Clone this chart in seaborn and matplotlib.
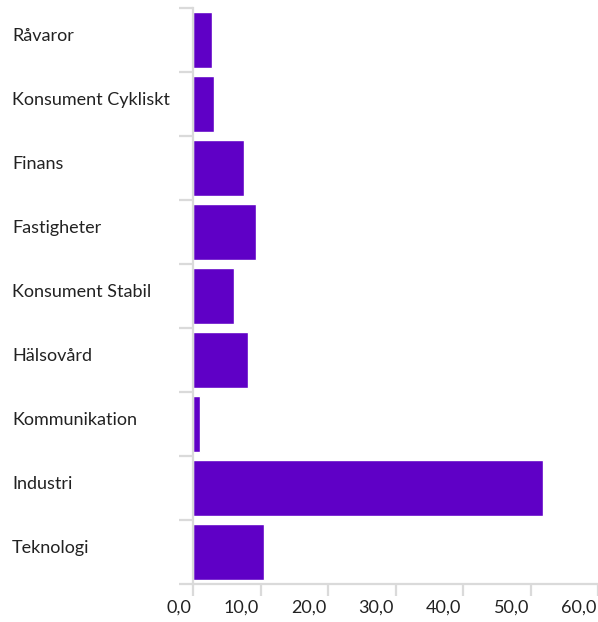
import numpy as np
import pandas as pd
import matplotlib
matplotlib.use("Agg")
import matplotlib.pyplot as plt
import matplotlib.ticker as mticker
import matplotlib.transforms as mtransforms
import seaborn as sns

# Data
sectors = ["Råvaror", "Konsument Cykliskt", "Finans", "Fastigheter", "Konsument Stabil",
           "Hälsovård", "Kommunikation", "Industri", "Teknologi"]
weights = [2.8, 3.1, 7.5, 9.3, 6.1, 8.1, 1.0, 51.9, 10.5]

df = pd.DataFrame({"Sektor": sectors, "Andel": weights})

sns.set_style("white")
plt.rcParams["font.family"] = ["Lato", "DejaVu Sans"]

fig = plt.figure(figsize=(5.98, 6.22), dpi=100)
ax = fig.add_axes([193 / 598, 38 / 622, 405 / 598, (584 - 7.7) / 622])

sns.barplot(data=df, x="Andel", y="Sektor", color="#5f00c6", width=0.875,
            saturation=1, ax=ax)

grey = "#dadada"
ax.set_xlim(0, 60)
ax.set_ylim(len(sectors) - 0.5, -0.5)
ax.set_xlabel("")
ax.set_ylabel("")

for side in ["top", "right"]:
    ax.spines[side].set_visible(False)
for side in ["left", "bottom"]:
    ax.spines[side].set_color(grey)
    ax.spines[side].set_linewidth(1.6)

ax.xaxis.set_major_locator(mticker.MultipleLocator(10))
ax.xaxis.set_major_formatter(mticker.FuncFormatter(lambda v, p: f"{v:.1f}".replace(".", ",")))
ax.tick_params(axis="x", bottom=True, length=8.6, width=1.6, color=grey,
               labelsize=13, labelcolor="#222222", pad=2.5)
xshift = mtransforms.ScaledTranslation(-1.5 / 100, 0, fig.dpi_scale_trans)
for lbl in ax.get_xticklabels():
    lbl.set_horizontalalignment("right")
    lbl.set_transform(lbl.get_transform() + xshift)

# category boundary ticks on the y axis, labels left-aligned at the figure edge
ax.set_yticks(np.arange(-0.5, len(sectors), 1), minor=True)
ax.tick_params(axis="y", which="minor", left=True, length=10, width=1.6, color=grey)
ax.tick_params(axis="y", which="major", left=True, length=0, labelsize=13,
               labelcolor="#222222", pad=130.3)
shift = mtransforms.ScaledTranslation(0, 5 / 100, fig.dpi_scale_trans)
for lbl in ax.get_yticklabels():
    lbl.set_horizontalalignment("left")
    lbl.set_transform(lbl.get_transform() + shift)

fig.savefig("out.png", dpi=100)
